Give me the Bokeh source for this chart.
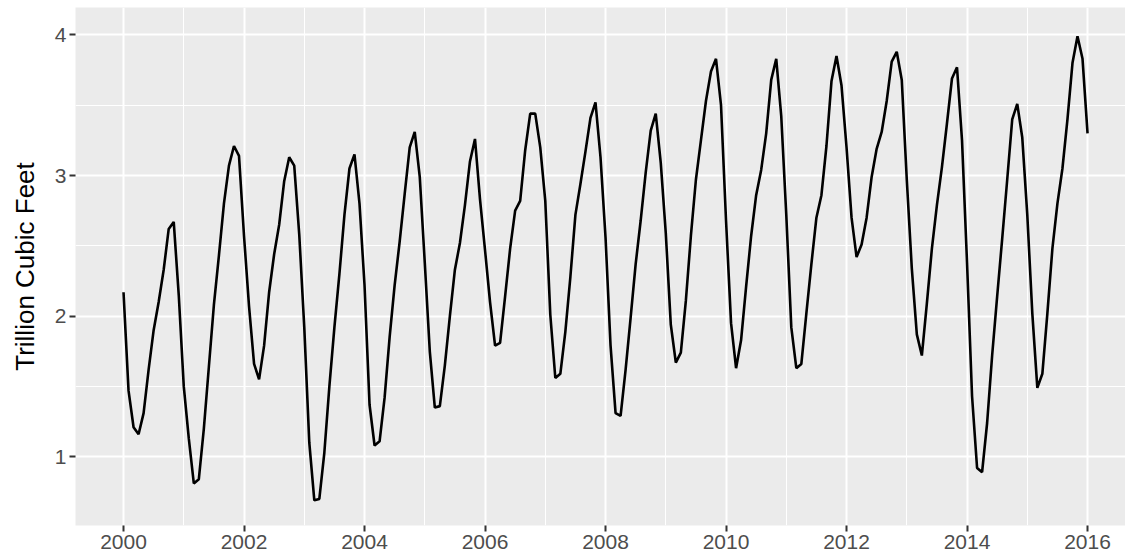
from bokeh.plotting import figure
from bokeh.models import Range1d, FixedTicker, ColumnDataSource
from bokeh.embed import file_html
from bokeh.resources import INLINE

# Monthly US natural gas storage (trillion cubic feet), Jan 2000 .. Jan 2016
y2000 = [2.17, 1.47, 1.21, 1.16, 1.31, 1.62, 1.90, 2.10, 2.33, 2.62, 2.67, 2.15]
y2001 = [1.50, 1.13, 0.81, 0.84, 1.20, 1.64, 2.08, 2.43, 2.80, 3.07, 3.21, 3.14]
y2002 = [2.57, 2.07, 1.66, 1.55, 1.79, 2.17, 2.44, 2.65, 2.96, 3.13, 3.07, 2.58]
y2003 = [1.92, 1.10, 0.69, 0.70, 1.03, 1.50, 1.92, 2.30, 2.72, 3.05, 3.15, 2.80]
y2004 = [2.22, 1.37, 1.08, 1.11, 1.42, 1.85, 2.22, 2.53, 2.87, 3.20, 3.31, 2.99]
y2005 = [2.38, 1.75, 1.35, 1.36, 1.65, 2.00, 2.33, 2.52, 2.79, 3.10, 3.26, 2.83]
y2006 = [2.47, 2.10, 1.79, 1.81, 2.14, 2.48, 2.75, 2.82, 3.18, 3.44, 3.44, 3.20]
y2007 = [2.82, 2.01, 1.56, 1.59, 1.89, 2.28, 2.72, 2.94, 3.17, 3.41, 3.52, 3.13]
y2008 = [2.56, 1.79, 1.31, 1.29, 1.62, 1.99, 2.37, 2.68, 3.02, 3.32, 3.44, 3.09]
y2009 = [2.59, 1.94, 1.67, 1.74, 2.11, 2.57, 2.97, 3.25, 3.53, 3.74, 3.83, 3.50]
y2010 = [2.68, 1.95, 1.63, 1.83, 2.21, 2.57, 2.86, 3.04, 3.30, 3.68, 3.83, 3.42]
y2011 = [2.72, 1.92, 1.63, 1.66, 2.02, 2.37, 2.70, 2.86, 3.21, 3.67, 3.85, 3.64]
y2012 = [3.20, 2.70, 2.42, 2.51, 2.70, 2.99, 3.19, 3.31, 3.53, 3.81, 3.88, 3.68]
y2013 = [2.97, 2.34, 1.87, 1.72, 2.09, 2.48, 2.79, 3.06, 3.37, 3.69, 3.77, 3.25]
y2014 = [2.38, 1.43, 0.92, 0.89, 1.24, 1.72, 2.14, 2.55, 2.97, 3.40, 3.51, 3.27]
y2015 = [2.72, 2.02, 1.49, 1.59, 2.02, 2.48, 2.80, 3.05, 3.40, 3.80, 3.99, 3.83]
y2016 = [3.30]

start_year = 2000
x_ticks = [2000, 2002, 2004, 2006, 2008, 2010, 2012, 2014, 2016]
x_minor = [2001, 2003, 2005, 2007, 2009, 2011, 2013, 2015]
y_ticks = [1, 2, 3, 4]
y_minor = [0.5, 1.5, 2.5, 3.5]
y_title = "Trillion Cubic Feet"

values = (y2000 + y2001 + y2002 + y2003 + y2004 + y2005 + y2006 + y2007 + y2008
          + y2009 + y2010 + y2011 + y2012 + y2013 + y2014 + y2015 + y2016)
times = [start_year + i / 12.0 for i in range(len(values))]
src = ColumnDataSource(dict(t=times, v=values))

W, H = 1125, 556
p = figure(width=W, height=H, output_backend="svg", toolbar_location=None,
           x_range=Range1d(1999.203, 2016.63), y_range=Range1d(0.511, 4.195),
           min_border_left=75, min_border_right=0, min_border_top=7,
           min_border_bottom=31)

p.background_fill_color = "#EBEBEB"
p.border_fill_color = "white"
p.outline_line_color = None

p.line("t", "v", source=src, line_color="black", line_width=2.6)

p.xaxis.ticker = FixedTicker(ticks=x_ticks, minor_ticks=x_minor)
p.yaxis.ticker = FixedTicker(ticks=y_ticks, minor_ticks=y_minor)

for ax in (p.xaxis, p.yaxis):
    ax.axis_line_color = None
    ax.major_tick_line_color = "#333333"
    ax.major_tick_line_width = 2
    ax.major_tick_out = 6
    ax.major_tick_in = 0
    ax.minor_tick_line_color = None
    ax.major_label_text_color = "#4D4D4D"
    ax.major_label_text_font = "Liberation Sans"
    ax.major_label_text_font_size = "21px"

p.xaxis.major_label_standoff = 3
p.yaxis.major_label_standoff = 3
p.yaxis.axis_label = y_title
p.yaxis.axis_label_text_font = "Liberation Sans"
p.yaxis.axis_label_text_font_size = "26px"
p.yaxis.axis_label_text_font_style = "normal"
p.yaxis.axis_label_text_color = "black"
p.yaxis.axis_label_standoff = 12

p.grid.grid_line_color = "white"
p.grid.grid_line_width = 2
p.grid.minor_grid_line_color = "white"
p.grid.minor_grid_line_width = 1

open("out.html", "w").write(file_html(p, INLINE))
